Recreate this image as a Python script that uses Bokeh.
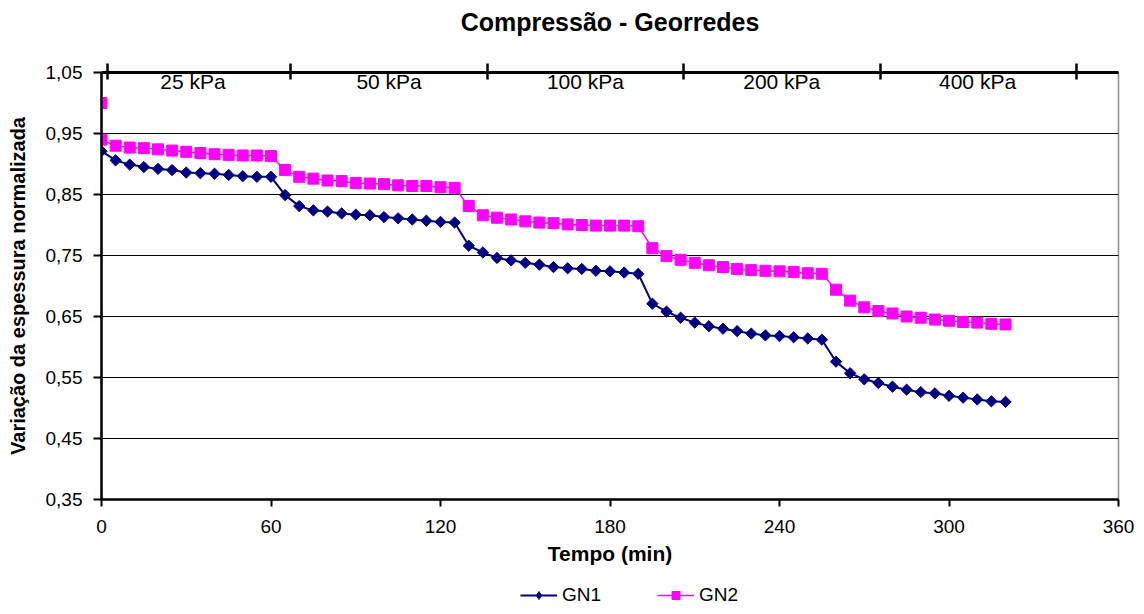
from bokeh.plotting import figure
from bokeh.layouts import column
from bokeh.models import (LinearAxis, FixedTicker, CustomJSTickFormatter, Legend,
                          LegendItem, Range1d, ColumnDataSource)
from bokeh.core.properties import value
from bokeh.embed import file_html
from bokeh.resources import INLINE
import math

FONT = "Liberation Sans"

# ---------------- data ----------------
title_text = "Compressão - Georredes"

time_gn1 = [0, 5, 10, 15, 20, 25, 30, 35, 40, 45, 50, 55, 60,
            65, 70, 75, 80, 85, 90, 95, 100, 105, 110, 115, 120, 125,
            130, 135, 140, 145, 150, 155, 160, 165, 170, 175, 180, 185, 190,
            195, 200, 205, 210, 215, 220, 225, 230, 235, 240, 245, 250, 255,
            260, 265, 270, 275, 280, 285, 290, 295, 300, 305, 310, 315, 320]
gn1 = [0.921, 0.906, 0.899, 0.895, 0.892, 0.890, 0.886, 0.885, 0.884, 0.882, 0.880, 0.879, 0.879,
       0.849, 0.831, 0.824, 0.822, 0.819, 0.817, 0.816, 0.813, 0.811, 0.809, 0.807, 0.805, 0.804,
       0.766, 0.755, 0.746, 0.742, 0.738, 0.735, 0.731, 0.729, 0.728, 0.725, 0.724, 0.722, 0.720,
       0.671, 0.658, 0.648, 0.640, 0.634, 0.630, 0.626, 0.622, 0.619, 0.618, 0.616, 0.614, 0.612,
       0.576, 0.557, 0.547, 0.541, 0.535, 0.530, 0.526, 0.524, 0.520, 0.517, 0.514, 0.511, 0.510]

time_gn2 = [0, 0, 5, 10, 15, 20, 25, 30, 35, 40, 45, 50, 55, 60,
            65, 70, 75, 80, 85, 90, 95, 100, 105, 110, 115, 120, 125,
            130, 135, 140, 145, 150, 155, 160, 165, 170, 175, 180, 185, 190,
            195, 200, 205, 210, 215, 220, 225, 230, 235, 240, 245, 250, 255,
            260, 265, 270, 275, 280, 285, 290, 295, 300, 305, 310, 315, 320]
gn2 = [1.000, 0.940, 0.930, 0.927, 0.926, 0.924, 0.922, 0.920, 0.918, 0.916, 0.915, 0.914, 0.914, 0.913,
       0.890, 0.879, 0.876, 0.873, 0.872, 0.869, 0.868, 0.867, 0.865, 0.864, 0.864, 0.862, 0.861,
       0.831, 0.816, 0.812, 0.809, 0.806, 0.804, 0.803, 0.801, 0.800, 0.799, 0.799, 0.799, 0.798,
       0.762, 0.749, 0.743, 0.738, 0.734, 0.731, 0.728, 0.726, 0.725, 0.724, 0.723, 0.721, 0.720,
       0.694, 0.676, 0.665, 0.659, 0.655, 0.650, 0.648, 0.645, 0.643, 0.641, 0.640, 0.638, 0.637]

x_ticks = [0, 60, 120, 180, 240, 300, 360]
y_ticks = [0.35, 0.45, 0.55, 0.65, 0.75, 0.85, 0.95, 1.05]

stage_labels = ["25 kPa", "50 kPa", "100 kPa", "200 kPa", "400 kPa"]
stage_bounds = [2.1, 66.9, 136.6, 206.0, 275.8, 345.1]
stage_centers = [32.4, 101.8, 171.3, 240.8, 310.1]
stage_label_y = [1.036] * len(stage_labels)

series_names = ["GN1", "GN2"]
series_colors = ["#000080", "#FF00FF"]

W = 1136

# ---------------- main figure ----------------
p = figure(width=W, height=580, output_backend="svg", toolbar_location=None,
           x_range=Range1d(0, 360), y_range=Range1d(0.35, 1.05),
           x_axis_location=None, y_axis_location=None,
           min_border_left=101, min_border_right=18, min_border_top=72, min_border_bottom=81)
p.background_fill_color = "white"
p.border_fill_color = "white"
p.outline_line_color = "#8c8c8c"
p.outline_line_width = 1.5
p.title.visible = False

# bottom axis
xaxis = LinearAxis(ticker=FixedTicker(ticks=x_ticks))
xaxis.axis_label = "Tempo (min)"
xaxis.axis_label_text_font = FONT
xaxis.axis_label_text_font_size = "21px"
xaxis.axis_label_text_font_style = "bold"
xaxis.axis_label_text_color = "black"
xaxis.axis_label_standoff = 6
xaxis.major_label_text_font = FONT
xaxis.major_label_text_font_size = "19px"
xaxis.major_label_text_color = "black"
xaxis.major_label_standoff = 13
xaxis.axis_line_width = 2.5
xaxis.axis_line_color = "black"
xaxis.major_tick_line_width = 2
xaxis.major_tick_line_color = "black"
xaxis.major_tick_in = 0
xaxis.major_tick_out = 7
xaxis.minor_tick_line_color = None
p.add_layout(xaxis, "below")

# left axis
yaxis = LinearAxis(ticker=FixedTicker(ticks=y_ticks),
                   formatter=CustomJSTickFormatter(code="return tick.toFixed(2).replace('.', ',');"))
yaxis.axis_label = "Variação da espessura normalizada"
yaxis.axis_label_text_font = FONT
yaxis.axis_label_text_font_size = "20px"
yaxis.axis_label_text_font_style = "bold"
yaxis.axis_label_text_color = "black"
yaxis.axis_label_standoff = 14
yaxis.major_label_text_font = FONT
yaxis.major_label_text_font_size = "19px"
yaxis.major_label_text_color = "black"
yaxis.major_label_standoff = 11
yaxis.axis_line_width = 2.5
yaxis.axis_line_color = "black"
yaxis.major_tick_line_width = 2
yaxis.major_tick_line_color = "black"
yaxis.major_tick_in = 0
yaxis.major_tick_out = 8
yaxis.minor_tick_line_color = None
p.add_layout(yaxis, "left")

# top (pressure stage) axis, carrying the chart title as its label
taxis = LinearAxis(ticker=FixedTicker(ticks=stage_bounds))
taxis.major_label_text_font_size = "0px"
taxis.major_label_text_alpha = 0
taxis.major_label_standoff = 0
taxis.axis_label = title_text
taxis.axis_label_text_font = FONT
taxis.axis_label_text_font_size = "25px"
taxis.axis_label_text_font_style = "bold"
taxis.axis_label_text_color = "black"
taxis.axis_label_standoff = 28
taxis.axis_line_width = 3
taxis.axis_line_color = "black"
taxis.major_tick_line_width = 2.5
taxis.major_tick_line_color = "black"
taxis.major_tick_in = 7
taxis.major_tick_out = 9
taxis.minor_tick_line_color = None
p.add_layout(taxis, "above")

# grid
p.ygrid.ticker = FixedTicker(ticks=y_ticks)
p.ygrid.grid_line_color = "black"
p.ygrid.grid_line_width = 1
p.xgrid.grid_line_color = None

# stage labels
p.text(x=stage_centers, y=stage_label_y, text=stage_labels,
       text_align="center", text_baseline="middle",
       text_font=value(FONT), text_font_size="21px", text_color="black")

# series
src1 = ColumnDataSource(dict(t=time_gn1, v=gn1))
src2 = ColumnDataSource(dict(t=time_gn2, v=gn2))

p.line("t", "v", source=src1, line_color=series_colors[0], line_width=2)
p.scatter("t", "v", source=src1, marker="square", angle=math.pi / 4, size=8,
          fill_color=series_colors[0], line_color=series_colors[0])
p.line("t", "v", source=src2, line_color=series_colors[1], line_width=1.5)
p.scatter("t", "v", source=src2, marker="square", size=11,
          fill_color=series_colors[1], line_color=series_colors[1])

# ---------------- legend strip ----------------
# the series are re-used here only as legend swatches; the y range keeps them out of view
leg = figure(width=W, height=26, output_backend="svg", toolbar_location=None,
             x_range=Range1d(0, 360), y_range=Range1d(10, 11),
             x_axis_location=None, y_axis_location=None,
             min_border=0)
leg.outline_line_color = None
leg.grid.grid_line_color = None
leg.background_fill_color = "white"
leg.border_fill_color = "white"

lg1 = leg.line("t", "v", source=src1, line_color=series_colors[0], line_width=2)
mg1 = leg.scatter("t", "v", source=src1, marker="diamond", size=14,
                  fill_color=series_colors[0], line_color=series_colors[0])
lg2 = leg.line("t", "v", source=src2, line_color=series_colors[1], line_width=1.5)
mg2 = leg.scatter("t", "v", source=src2, marker="square", size=11,
                  fill_color=series_colors[1], line_color=series_colors[1])

legend = Legend(items=[LegendItem(label=series_names[0], renderers=[lg1, mg1]),
                       LegendItem(label=series_names[1], renderers=[lg2, mg2])],
                orientation="horizontal", location=(419, 0))
legend.label_text_font = FONT
legend.label_text_font_size = "19px"
legend.label_text_color = "black"
legend.glyph_width = 37
legend.glyph_height = 20
legend.label_standoff = 5
legend.spacing = 56
legend.padding = 0
legend.margin = 0
legend.border_line_color = None
legend.background_fill_alpha = 0
leg.add_layout(legend)

layout = column(p, leg, spacing=0)
open("out.html", "w").write(file_html(layout, INLINE))
